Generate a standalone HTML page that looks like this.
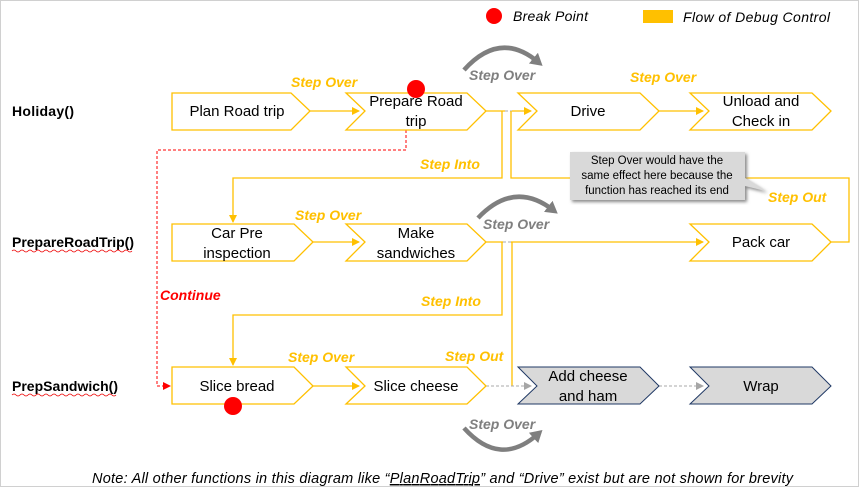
<!DOCTYPE html>
<html><head><style>
body{margin:0;background:#fff;}
svg{display:block;font-family:"Liberation Sans",sans-serif;}
.n{font-size:15px;fill:#000;text-anchor:middle;}
.s{font-size:14px;font-weight:bold;font-style:italic;fill:#ffc000;}
.g{font-size:14px;font-weight:bold;font-style:italic;fill:#7f7f7f;}
.f{font-size:14px;font-weight:bold;fill:#000;}
.y{fill:none;stroke:#ffc000;stroke-width:1.3;}
.ch{fill:#fff;stroke:#ffc000;stroke-width:1.3;}
</style></head><body>
<svg width="859" height="487" viewBox="0 0 859 487">
<defs>
<marker id="ay" markerWidth="8" markerHeight="8" refX="7" refY="4" orient="auto" markerUnits="userSpaceOnUse"><path d="M0,0 L8,4 L0,8z" fill="#ffc000"/></marker>
<marker id="ag" markerWidth="8" markerHeight="8" refX="7" refY="4" orient="auto" markerUnits="userSpaceOnUse"><path d="M0,0 L8,4 L0,8z" fill="#a6a6a6"/></marker>
<marker id="ar" markerWidth="8" markerHeight="8" refX="7" refY="4" orient="auto" markerUnits="userSpaceOnUse"><path d="M0,0 L8,4 L0,8z" fill="#ff0000"/></marker>
<marker id="agr" markerWidth="14" markerHeight="14" refX="6" refY="7" orient="auto" markerUnits="userSpaceOnUse"><path d="M0,0 L12,7 L0,14z" fill="#7f7f7f"/></marker>
<filter id="sh"><feDropShadow dx="2" dy="2" stdDeviation="1.5" flood-color="#888"/></filter>
</defs>
<rect x="0.5" y="0.5" width="858" height="486" fill="none" stroke="#d0d0d0"/>
<!-- legend -->
<circle cx="494" cy="16" r="8" fill="#ff0000"/>
<text x="513" y="21" style="font-size:14px;font-style:italic" textLength="75">Break Point</text>
<rect x="643" y="10" width="30" height="13" fill="#ffc000"/>
<text x="683" y="22" style="font-size:14px;font-style:italic" textLength="147">Flow of Debug Control</text>
<!-- function labels -->
<text class="f" x="12" y="116" textLength="62">Holiday()</text>
<text class="f" x="12" y="247" textLength="122">PrepareRoadTrip()</text>
<path d="M12,251 q2,-2 4,0 t4,0 t4,0 t4,0 t4,0 t4,0 t4,0 t4,0 t4,0 t4,0 t4,0 t4,0 t4,0 t4,0 t4,0 t4,0 t4,0 t4,0 t4,0 t4,0 t4,0 t4,0 t4,0 t4,0 t4,0 t4,0 t4,0 t4,0 t4,0 t4,0" fill="none" stroke="#e00" stroke-width="0.8"/>
<text class="f" x="12" y="391" textLength="106">PrepSandwich()</text>
<path d="M12,395 q2,-2 4,0 t4,0 t4,0 t4,0 t4,0 t4,0 t4,0 t4,0 t4,0 t4,0 t4,0 t4,0 t4,0 t4,0 t4,0 t4,0 t4,0 t4,0 t4,0 t4,0 t4,0 t4,0 t4,0 t4,0 t4,0 t4,0" fill="none" stroke="#e00" stroke-width="0.8"/>
<!-- connectors -->
<path class="y" d="M310,111 H359" marker-end="url(#ay)"/>
<path class="y" d="M486,111 H505"/>
<path d="M505,111 H512" stroke="#aaa" stroke-dasharray="3,2"/>
<path class="y" d="M512,111 H531" marker-end="url(#ay)"/>
<path class="y" d="M502,111 V178 H233 V222" marker-end="url(#ay)"/>
<path class="y" d="M511,111 V178 H849 V242 H831"/>
<path class="y" d="M659,111 H703" marker-end="url(#ay)"/>
<path class="y" d="M313,242 H359" marker-end="url(#ay)"/>
<path class="y" d="M486,242 H503"/>
<path d="M503,242 H511" stroke="#aaa" stroke-dasharray="3,2"/>
<path class="y" d="M502,242 V315 H233 V365" marker-end="url(#ay)"/>
<path class="y" d="M511,242 H703" marker-end="url(#ay)"/>
<path class="y" d="M512,242 V386"/>
<path class="y" d="M313,386 H359" marker-end="url(#ay)"/>
<path d="M486,386 H531" stroke="#aaa" stroke-dasharray="3,2" fill="none" marker-end="url(#ag)"/>
<path d="M659,386 H703" stroke="#aaa" stroke-dasharray="3,2" fill="none" marker-end="url(#ag)"/>
<path d="M406,130 V150 H157 V386 H170" fill="none" stroke="#ff0000" stroke-dasharray="3,2" marker-end="url(#ar)"/>
<!-- shapes -->
<path class="ch" d="M172,93 H291 L310,111 L291,130 H172 Z"/>
<path class="ch" d="M346,93 H467 L486,111 L467,130 H346 L365,111 Z"/>
<path class="ch" d="M518,93 H640 L659,111 L640,130 H518 L537,111 Z"/>
<path class="ch" d="M690,93 H812 L831,111 L812,130 H690 L709,111 Z"/>
<path class="ch" d="M172,224 H294 L313,242 L294,261 H172 Z"/>
<path class="ch" d="M346,224 H467 L486,242 L467,261 H346 L365,242 Z"/>
<path class="ch" d="M690,224 H812 L831,242 L812,261 H690 L709,242 Z"/>
<path class="ch" d="M172,367 H294 L313,386 L294,404 H172 Z"/>
<path class="ch" d="M346,367 H467 L486,386 L467,404 H346 L365,386 Z"/>
<path d="M518,367 H640 L659,386 L640,404 H518 L537,386 Z" fill="#d9d9d9" stroke="#1f3864" stroke-width="1"/>
<path d="M690,367 H812 L831,386 L812,404 H690 L709,386 Z" fill="#d9d9d9" stroke="#1f3864" stroke-width="1"/>
<!-- node text -->
<text class="n" x="237" y="116">Plan Road trip</text>
<text class="n" x="416" y="106">Prepare Road</text><text class="n" x="416" y="126">trip</text>
<text class="n" x="588" y="116">Drive</text>
<text class="n" x="761" y="106">Unload and</text><text class="n" x="761" y="126">Check in</text>
<text class="n" x="237" y="238">Car Pre</text><text class="n" x="237" y="258">inspection</text>
<text class="n" x="416" y="238">Make</text><text class="n" x="416" y="258">sandwiches</text>
<text class="n" x="761" y="247">Pack car</text>
<text class="n" x="237" y="391">Slice bread</text>
<text class="n" x="416" y="391">Slice cheese</text>
<text class="n" x="588" y="381">Add cheese</text><text class="n" x="588" y="401">and ham</text>
<text class="n" x="761" y="391">Wrap</text>
<!-- red dots -->
<circle cx="416" cy="89" r="9" fill="#ff0000"/>
<circle cx="233" cy="406" r="9" fill="#ff0000"/>
<!-- curved arrows -->
<path d="M464,70 Q500,30 538,62" fill="none" stroke="#7f7f7f" stroke-width="4.5" marker-end="url(#agr)"/>
<path d="M478,218 Q514,180 553,210" fill="none" stroke="#7f7f7f" stroke-width="4.5" marker-end="url(#agr)"/>
<path d="M464,428 Q500,468 538,434" fill="none" stroke="#7f7f7f" stroke-width="4.5" marker-end="url(#agr)"/>
<text class="g" x="469" y="80">Step Over</text>
<text class="g" x="483" y="229">Step Over</text>
<text class="g" x="469" y="429">Step Over</text>
<!-- step labels -->
<text class="s" x="291" y="87">Step Over</text>
<text class="s" x="630" y="82">Step Over</text>
<text class="s" x="420" y="169">Step Into</text>
<text class="s" x="768" y="202">Step Out</text>
<text class="s" x="295" y="220">Step Over</text>
<text class="s" x="421" y="306">Step Into</text>
<text class="s" x="288" y="362">Step Over</text>
<text class="s" x="445" y="361">Step Out</text>
<text x="160" y="300" style="font-size:14px;font-weight:bold;font-style:italic;fill:#ff0000">Continue</text>
<!-- callout -->
<path d="M570,152 H745 V178 L766,191 L745,186 V200 H570 Z" fill="#d9d9d9" filter="url(#sh)"/>
<text x="657" y="164" style="font-size:11.5px;text-anchor:middle">Step Over would have the</text>
<text x="657" y="179" style="font-size:11.5px;text-anchor:middle">same effect here because the</text>
<text x="657" y="194" style="font-size:11.5px;text-anchor:middle">function has reached its end</text>
<!-- note -->
<text x="92" y="483" style="font-size:14.5px;font-style:italic" textLength="701">Note: All other functions in this diagram like “<tspan text-decoration="underline">PlanRoadTrip</tspan>” and “Drive” exist but are not shown for brevity</text>
</svg>
</body></html>
